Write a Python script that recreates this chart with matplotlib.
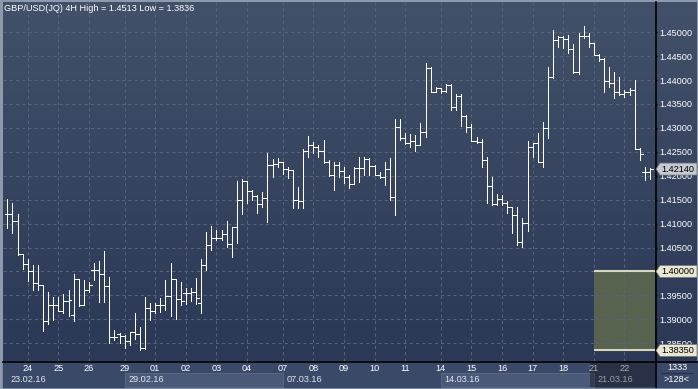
import numpy as np
import matplotlib.pyplot as plt
from matplotlib.colors import LinearSegmentedColormap
from matplotlib.patches import Rectangle, Polygon
from matplotlib.transforms import blended_transform_factory

plt.rcParams['font.family'] = ['Liberation Sans', 'DejaVu Sans']

# GBP/USD 4H bars, 23.02.16 .. 22.03.16
opens = [1.4120, 1.4120, 1.4106, 1.4037, 1.4015, 1.4002, 1.3975, 1.3971, 1.3897, 1.3929,
         1.3929, 1.3918, 1.3939, 1.3909, 1.3984, 1.3929, 1.3961, 1.4003, 1.4003, 1.3994,
         1.3970, 1.3864, 1.3869, 1.3865, 1.3855, 1.3873, 1.3869, 1.3840, 1.3924, 1.3918,
         1.3929, 1.3929, 1.3948, 1.3984, 1.3943, 1.3956, 1.3956, 1.3957, 1.3934, 1.4014,
         1.4055, 1.4071, 1.4071, 1.4078, 1.4058, 1.4092, 1.4149, 1.4189, 1.4168, 1.4157,
         1.4141, 1.4154, 1.4223, 1.4224, 1.4228, 1.4214, 1.4211, 1.4149, 1.4148, 1.4252,
         1.4264, 1.4261, 1.4252, 1.4228, 1.4201, 1.4223, 1.4210, 1.4198, 1.4183, 1.4216,
         1.4217, 1.4235, 1.4221, 1.4202, 1.4197, 1.4214, 1.4155, 1.4301, 1.4278, 1.4269,
         1.4273, 1.4264, 1.4292, 1.4425, 1.4375, 1.4383, 1.4378, 1.4390, 1.4343, 1.4367,
         1.4325, 1.4302, 1.4273, 1.4271, 1.4233, 1.4179, 1.4141, 1.4151, 1.4144, 1.4134,
         1.4118, 1.4062, 1.4102, 1.4260, 1.4268, 1.4228, 1.4299, 1.4407, 1.4484, 1.4489,
         1.4485, 1.4465, 1.4416, 1.4492, 1.4491, 1.4477, 1.4452, 1.4444, 1.4397, 1.4393,
         1.4376, 1.4370, 1.4374, 1.4379, 1.4255, 1.4207, 1.4207]
highs = [1.4151, 1.4143, 1.4120, 1.4037, 1.4026, 1.4014, 1.4014, 1.3971, 1.3957, 1.3947,
         1.3946, 1.3953, 1.3961, 1.3994, 1.3984, 1.3982, 1.3979, 1.4017, 1.4021, 1.4043,
         1.3989, 1.3878, 1.3871, 1.3867, 1.3874, 1.3914, 1.3885, 1.3946, 1.3934, 1.3934,
         1.3944, 1.3982, 1.4017, 1.3984, 1.3979, 1.3965, 1.3965, 1.3986, 1.4026, 1.4083,
         1.4094, 1.4087, 1.4087, 1.4106, 1.4092, 1.4189, 1.4193, 1.4189, 1.4170, 1.4160,
         1.4167, 1.4248, 1.4235, 1.4237, 1.4228, 1.4219, 1.4212, 1.4177, 1.4255, 1.4283,
         1.4271, 1.4264, 1.4275, 1.4233, 1.4229, 1.4229, 1.4219, 1.4202, 1.4219, 1.4239,
         1.4239, 1.4237, 1.4223, 1.4207, 1.4229, 1.4237, 1.4318, 1.4318, 1.4289, 1.4287,
         1.4285, 1.4310, 1.4436, 1.4427, 1.4386, 1.4383, 1.4391, 1.4391, 1.4370, 1.4370,
         1.4327, 1.4308, 1.4282, 1.4276, 1.4240, 1.4198, 1.4162, 1.4160, 1.4148, 1.4135,
         1.4134, 1.4111, 1.4273, 1.4268, 1.4290, 1.4313, 1.4428, 1.4505, 1.4491, 1.4491,
         1.4494, 1.4475, 1.4498, 1.4513, 1.4498, 1.4477, 1.4454, 1.4446, 1.4428, 1.4416,
         1.4407, 1.4379, 1.4383, 1.4400, 1.4258, 1.4218, 1.4216]
lows = [1.4090, 1.4081, 1.4035, 1.4005, 1.3981, 1.3961, 1.3961, 1.3876, 1.3890, 1.3899,
        1.3918, 1.3914, 1.3906, 1.3897, 1.3927, 1.3929, 1.3958, 1.3982, 1.3937, 1.3937,
        1.3850, 1.3857, 1.3850, 1.3840, 1.3846, 1.3858, 1.3836, 1.3838, 1.3899, 1.3913,
        1.3916, 1.3920, 1.3906, 1.3900, 1.3930, 1.3932, 1.3939, 1.3932, 1.3913, 1.4003,
        1.4045, 1.4066, 1.4066, 1.4052, 1.4030, 1.4059, 1.4120, 1.4143, 1.4149, 1.4122,
        1.4135, 1.4104, 1.4198, 1.4219, 1.4204, 1.4195, 1.4132, 1.4132, 1.4132, 1.4240,
        1.4247, 1.4240, 1.4226, 1.4200, 1.4170, 1.4198, 1.4184, 1.4175, 1.4183, 1.4186,
        1.4202, 1.4202, 1.4202, 1.4195, 1.4181, 1.4149, 1.4117, 1.4275, 1.4266, 1.4261,
        1.4252, 1.4264, 1.4280, 1.4374, 1.4374, 1.4372, 1.4374, 1.4338, 1.4338, 1.4304,
        1.4292, 1.4273, 1.4268, 1.4218, 1.4144, 1.4139, 1.4139, 1.4139, 1.4122, 1.4081,
        1.4055, 1.4052, 1.4085, 1.4239, 1.4228, 1.4219, 1.4278, 1.4404, 1.4470, 1.4467,
        1.4456, 1.4414, 1.4412, 1.4488, 1.4470, 1.4452, 1.4440, 1.4376, 1.4386, 1.4363,
        1.4369, 1.4365, 1.4369, 1.4255, 1.4232, 1.4191, 1.4193]
closes = [1.4120, 1.4106, 1.4037, 1.4015, 1.4002, 1.3975, 1.3971, 1.3897, 1.3929, 1.3929,
          1.3918, 1.3939, 1.3940, 1.3984, 1.3929, 1.3961, 1.3971, 1.4003, 1.3994, 1.3970,
          1.3864, 1.3864, 1.3865, 1.3855, 1.3873, 1.3869, 1.3840, 1.3924, 1.3918, 1.3929,
          1.3929, 1.3948, 1.3984, 1.3943, 1.3939, 1.3956, 1.3957, 1.3944, 1.4014, 1.4055,
          1.4071, 1.4071, 1.4078, 1.4058, 1.4092, 1.4149, 1.4189, 1.4168, 1.4157, 1.4141,
          1.4154, 1.4223, 1.4224, 1.4228, 1.4214, 1.4211, 1.4149, 1.4148, 1.4252, 1.4264,
          1.4261, 1.4252, 1.4228, 1.4201, 1.4223, 1.4210, 1.4198, 1.4183, 1.4216, 1.4217,
          1.4235, 1.4221, 1.4202, 1.4197, 1.4214, 1.4155, 1.4301, 1.4278, 1.4269, 1.4273,
          1.4264, 1.4292, 1.4425, 1.4375, 1.4383, 1.4378, 1.4390, 1.4343, 1.4367, 1.4325,
          1.4302, 1.4273, 1.4271, 1.4233, 1.4179, 1.4141, 1.4151, 1.4144, 1.4134, 1.4118,
          1.4062, 1.4102, 1.4260, 1.4268, 1.4228, 1.4299, 1.4407, 1.4484, 1.4489, 1.4485,
          1.4465, 1.4416, 1.4492, 1.4491, 1.4477, 1.4452, 1.4444, 1.4397, 1.4393, 1.4376,
          1.4370, 1.4374, 1.4379, 1.4255, 1.4246, 1.4207, 1.4214]

# first bar of each day / week (bar index)
day_labels = ['24', '25', '26', '29', '01', '02', '03', '04', '07', '08',
              '09', '10', '11', '14', '15', '16', '17', '18', '21', '22']
day_start = [4, 10, 16, 23, 29, 35, 41, 47, 54, 60, 66, 72, 78, 85, 91, 97, 103, 109, 115, 121]
week_labels = ['23.02.16', '29.02.16', '07.03.16', '14.03.16', '21.03.16']
week_start = [0, 23, 54, 85, 115]

zone_top, zone_bottom = 1.4000, 1.3835
zone_start = 115
last_price = 1.4214
title = 'GBP/USD(JQ) 4H High = 1.4513 Low = 1.3836'
corner_top, corner_bottom = '1333', '>128<'

#----------------------------------------------------------------------------------------------------------------------#
W, H = 698, 389
fig = plt.figure(figsize=(W / 100, H / 100), dpi=100)
fig.patch.set_facecolor('#8f99ac')

bg_cmap = LinearSegmentedColormap.from_list('bg', ['#425069', '#2b3856'])
grad = np.linspace(0, 1, 256).reshape(-1, 1)
grid_c = '#56647f'
fs = 6.6

# pixel layer behind the chart
back = fig.add_axes([0, 0, 1, 1])
back.imshow(grad, cmap=bg_cmap, extent=[3, 697, 361, 2], aspect='auto')
back.add_patch(Rectangle((3, 361), 694, 26, color='#3b4968'))
back.set_xlim(0, W)
back.set_ylim(H, 0)
back.axis('off')

# main price axes
ax = fig.add_axes([3 / W, 1 - 361 / H, 652 / W, 359 / H])
ax.patch.set_alpha(0)
ax.set_xlim(-0.85, 127.0)
ax.set_ylim(1.3813, 1.4563)
for s in ax.spines.values():
    s.set_visible(False)

x = np.arange(len(closes))
xmax = ax.get_xlim()[1]

# marked zone
ax.add_patch(Rectangle((zone_start, zone_bottom), xmax - zone_start, zone_top - zone_bottom,
                       facecolor='#57624f', edgecolor='none', zorder=1))
ax.hlines([zone_top, zone_bottom], zone_start, xmax, color='#d8d6bf', lw=1.5, zorder=3)

# grid
levels = np.round(np.arange(1.385, 1.4501, 0.005), 3)
for lv in levels:
    ax.axhline(lv, color=grid_c, lw=0.75, ls=(0, (3, 3)), zorder=2)
for d in day_start:
    ax.axvline(d, color=grid_c, lw=0.75, ls=(0, (3, 3)), zorder=2)

# OHLC bars
bar_kw = dict(colors='white', lw=0.5, antialiased=False, zorder=4)
ax.vlines(x, lows, highs, **bar_kw)
ax.hlines(opens, x - 0.55, x, **bar_kw)
ax.hlines(closes, x, x + 0.55, **bar_kw)

# price scale on the right (the level under the zone-top flag is hidden by it)
ax.yaxis.tick_right()
ax.set_yticks(levels)
ax.set_yticklabels(['' if abs(v - zone_top) < 1e-9 else f'{v:.5f}' for v in levels])
ax.tick_params(axis='y', length=1.5, width=1, color='black', labelcolor='white',
               labelsize=fs, pad=1.6)
ax.set_xticks([])

# time scale below
trans = blended_transform_factory(ax.transData, ax.transAxes)
for d, lab in zip(day_start, day_labels):
    ax.text(d, -0.021, lab, transform=trans, ha='center', va='center', color='white',
            fontsize=fs, clip_on=False)
week_end = week_start[1:] + [xmax]
for i, (w0, w1, lab) in enumerate(zip(week_start, week_end, week_labels)):
    if i % 2 == 1:
        ax.add_patch(Rectangle((w0, -0.0724), w1 - w0, 0.039, transform=trans, clip_on=False,
                               facecolor='#4b5978', edgecolor='#5d6b89', lw=0.6, zorder=1))
    ax.text(w0 + 0.7, -0.0529, lab, transform=trans, ha='left', va='center', color='#e2e6ee',
            fontsize=fs, clip_on=False, zorder=2)
ax.add_patch(Rectangle((zone_start - 0.8, -0.0724), xmax - zone_start + 0.8, 0.0724,
                       transform=trans, clip_on=False, facecolor='black', alpha=0.32,
                       edgecolor='none', zorder=6))

# separators
back.plot([655.5, 655.5], [2, 387], color='black', lw=1.2)
back.plot([3, 697], [361.5, 361.5], color='black', lw=1.2)
back.text(677, 367.5, corner_top, ha='center', va='center', color='white', fontsize=fs)
back.plot([661, 693], [373, 373], color='#26304a', lw=0.8)
back.text(677, 380, corner_bottom, ha='center', va='center', color='white', fontsize=fs)

# front layer: title and price flags
front = fig.add_axes([0, 0, 1, 1])
front.set_xlim(0, W)
front.set_ylim(H, 0)
front.axis('off')
front.text(4, 8.5, title, ha='left', va='center', color='white', fontsize=fs)
for price, face in [(last_price, '#c6cad0'), (zone_top, '#e9e7d2'), (zone_bottom, '#e9e7d2')]:
    py = H - ax.transData.transform((0, price))[1]
    front.add_patch(Polygon([(656, py), (660, py - 6), (697, py - 6), (697, py + 6), (660, py + 6)],
                            closed=True, facecolor=face, edgecolor='#6c727c', lw=0.5))
    front.text(661, py, f'{price:.5f}', ha='left', va='center', color='black', fontsize=fs)

fig.savefig('out.png', dpi=100, facecolor=fig.get_facecolor())
